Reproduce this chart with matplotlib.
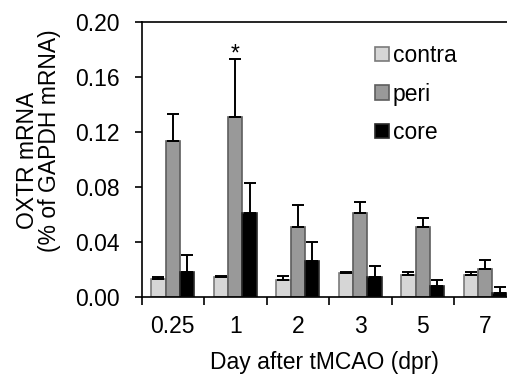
import matplotlib
matplotlib.use("Agg")
import matplotlib.pyplot as plt
import matplotlib.transforms as mtransforms
import numpy as np
from matplotlib.patches import Patch

plt.rcParams['font.family'] = ['Liberation Sans', 'DejaVu Sans']

categories = ["0.25", "1", "2", "3", "5", "7"]
series = ["contra", "peri", "core"]
contra = [0.013, 0.014, 0.012, 0.0175, 0.016, 0.016]
contra_err = [0.001, 0.001, 0.003, 0.0005, 0.002, 0.002]
peri = [0.113, 0.131, 0.051, 0.061, 0.051, 0.020]
peri_err = [0.020, 0.042, 0.016, 0.008, 0.006, 0.007]
core = [0.018, 0.061, 0.026, 0.0145, 0.008, 0.003]
core_err = [0.012, 0.022, 0.0135, 0.0075, 0.004, 0.004]
yticks = [0.00, 0.04, 0.08, 0.12, 0.16, 0.20]

faces = ["#d6d6d6", "#999999", "#000000"]
edges = ["#7a7a7a", "#5e5e5e", "#2a2a2a"]
FS = 16.5

fig = plt.figure(figsize=(5.07, 3.76), dpi=100)
ax = fig.add_axes([141.5/507, (376-296.7)/376, 375/507, 275/376])

x = np.arange(len(categories))
w = 0.23
vals = [contra, peri, core]
errs = [contra_err, peri_err, core_err]
for i, (v, e) in enumerate(zip(vals, errs)):
    xs = x + (i - 1) * w
    ax.bar(xs, v, width=w, color=faces[i], edgecolor=edges[i], linewidth=1.2,
           label=series[i], zorder=2)
    ax.errorbar(xs, v, yerr=[np.zeros(len(v)), e], fmt='none', ecolor='black',
                elinewidth=1.4, capsize=4, capthick=1.4, zorder=3)

ax.text(x[1], 0.1765, "*", ha='center', va='center', fontsize=FS)

ax.set_xlim(-0.5, len(categories) - 0.5)
ax.set_ylim(0, 0.20)
ax.set_yticks(yticks)
ax.set_yticklabels([f"{t:.2f}" for t in yticks], fontsize=FS)
off = mtransforms.ScaledTranslation(0, -3.5/100, fig.dpi_scale_trans)
for lab in ax.get_yticklabels():
    lab.set_transform(lab.get_transform() + off)
ax.set_xticks(np.arange(-0.5, len(categories) - 0.5, 1.0))
ax.set_xticklabels([])
ax.set_xticks(x, minor=True)
ax.set_xticklabels(categories, minor=True, fontsize=FS)
ax.tick_params(axis='x', which='major', length=6, width=1.2, direction='out')
ax.tick_params(axis='x', which='minor', length=0, pad=13)
ax.tick_params(axis='y', length=5, width=1.2, direction='out', pad=11)
for s in ax.spines.values():
    s.set_linewidth(1.2)
ax.spines['right'].set_visible(False)

fig.text(28/507, 1 - 160/376, "OXTR mRNA", rotation=90, ha='center', va='center', fontsize=FS)
fig.text(50/507, 1 - 141/376, "(% of GAPDH mRNA)", rotation=90, ha='center', va='center', fontsize=FS)
fig.text(324/507, 1 - 362/376, "Day after tMCAO (dpr)", ha='center', va='center', fontsize=FS)

handles = [Patch(facecolor=faces[i], edgecolor=edges[i], linewidth=1.2, label=series[i])
           for i in range(3)]
ax.legend(handles=handles, loc='upper left', bbox_to_anchor=(375/507, 1 - 44/376),
          bbox_transform=fig.transFigure, frameon=False, fontsize=FS,
          handlelength=0.61, handleheight=0.61, handletextpad=0.17,
          labelspacing=0.68, borderpad=0, borderaxespad=0)

fig.savefig("out.png", dpi=100)
